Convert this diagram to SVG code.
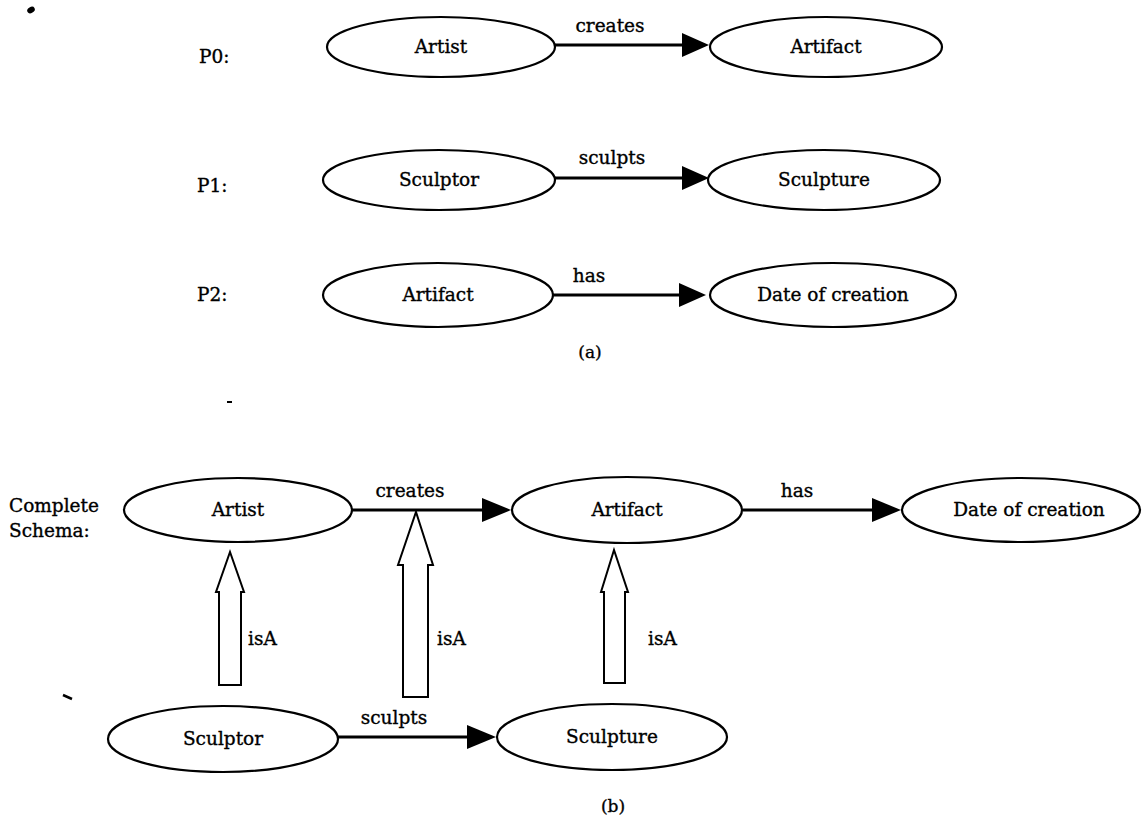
<svg xmlns="http://www.w3.org/2000/svg" width="1142" height="822" viewBox="0 0 1142 822">
<style>
.n{fill:#fff;stroke:#000;stroke-width:2.2}
.t{font-family:"DejaVu Serif","Liberation Serif",serif;font-size:18.5px;fill:#000;stroke:#000;stroke-width:0.35;text-anchor:middle}
.l{font-family:"DejaVu Serif","Liberation Serif",serif;font-size:18.5px;fill:#000;stroke:#000;stroke-width:0.35}
.e{stroke:#000;stroke-width:3.2;fill:none}
.h{fill:#000;stroke:none}
.isa{fill:#fff;stroke:#000;stroke-width:2}
</style>
<rect width="1142" height="822" fill="#fff"/>
<!-- specks -->
<ellipse cx="31" cy="10" rx="4" ry="3" fill="#000" transform="rotate(-30 31 10)"/>
<rect x="227" y="401" width="5" height="2" fill="#000"/>
<path d="M63 695 L72 699" stroke="#000" stroke-width="2.5"/>

<!-- labels -->
<text class="l" x="199" y="63">P0:</text>
<text class="l" x="197" y="192">P1:</text>
<text class="l" x="197" y="301">P2:</text>
<text class="t" x="590" y="358" style="font-size:17px">(a)</text>
<text class="l" x="9" y="512">Complete</text>
<text class="l" x="9" y="537">Schema:</text>
<text class="t" x="613" y="812" style="font-size:17px">(b)</text>

<g id="connectors">
  <!-- P0 -->
  <line class="e" x1="555" y1="45" x2="684" y2="45"/>
  <path class="h" d="M682 33 L709 45 L682 57 Z"/>
  <text class="t" x="610" y="32">creates</text>
  <!-- P1 -->
  <line class="e" x1="555" y1="178" x2="684" y2="178"/>
  <path class="h" d="M682 166 L709 178 L682 190 Z"/>
  <text class="t" x="612" y="164">sculpts</text>
  <!-- P2 -->
  <line class="e" x1="552" y1="295" x2="681" y2="295"/>
  <path class="h" d="M679 283 L706 295 L679 307 Z"/>
  <text class="t" x="589" y="282">has</text>
  <!-- complete schema -->
  <line class="e" x1="352" y1="510" x2="484" y2="510"/>
  <path class="h" d="M482 498 L511 510 L482 522 Z"/>
  <text class="t" x="410" y="497">creates</text>
  <line class="e" x1="743" y1="510" x2="874" y2="510"/>
  <path class="h" d="M872 498 L901 510 L872 522 Z"/>
  <text class="t" x="797" y="497">has</text>
  <line class="e" x1="338" y1="737" x2="469" y2="737"/>
  <path class="h" d="M467 725 L496 737 L467 749 Z"/>
  <text class="t" x="394" y="724">sculpts</text>
  <!-- isA arrows -->
  <path class="isa" d="M219 685 L219 592 L216 592 L230 552 L244 592 L241 592 L241 685 Z"/>
  <text class="l" x="248" y="645">isA</text>
  <path class="isa" d="M403 697 L403 565 L398 565 L416 512 L433 565 L428 565 L428 697 Z"/>
  <text class="l" x="437" y="645">isA</text>
  <path class="isa" d="M604 683 L604 592 L601 592 L614 550 L628 592 L625 592 L625 683 Z"/>
  <text class="l" x="648" y="645">isA</text>
</g>

<g id="p0-artist"><ellipse class="n" cx="441" cy="47" rx="114" ry="30"/><text class="t" x="441" y="53">Artist</text></g>
<g id="p0-artifact"><ellipse class="n" cx="826" cy="47" rx="116" ry="30"/><text class="t" x="826" y="53">Artifact</text></g>
<g id="p1-sculptor"><ellipse class="n" cx="439" cy="180" rx="116" ry="30"/><text class="t" x="439" y="186">Sculptor</text></g>
<g id="p1-sculpture"><ellipse class="n" cx="824" cy="180" rx="116" ry="30"/><text class="t" x="824" y="186">Sculpture</text></g>
<g id="p2-artifact"><ellipse class="n" cx="438" cy="295" rx="115" ry="32"/><text class="t" x="438" y="301">Artifact</text></g>
<g id="p2-date"><ellipse class="n" cx="833" cy="295" rx="123" ry="32"/><text class="t" x="833" y="301">Date of creation</text></g>

<g id="s-artist"><ellipse class="n" cx="238" cy="510" rx="114" ry="32"/><text class="t" x="238" y="516">Artist</text></g>
<g id="s-artifact"><ellipse class="n" cx="627" cy="510" rx="115" ry="33"/><text class="t" x="627" y="516">Artifact</text></g>
<g id="s-date"><ellipse class="n" cx="1021" cy="510" rx="119" ry="32"/><text class="t" x="1029" y="516">Date of creation</text></g>
<g id="s-sculptor"><ellipse class="n" cx="223" cy="739" rx="115" ry="33"/><text class="t" x="223" y="745">Sculptor</text></g>
<g id="s-sculpture"><ellipse class="n" cx="612" cy="737" rx="115" ry="33"/><text class="t" x="612" y="743">Sculpture</text></g>
</svg>
